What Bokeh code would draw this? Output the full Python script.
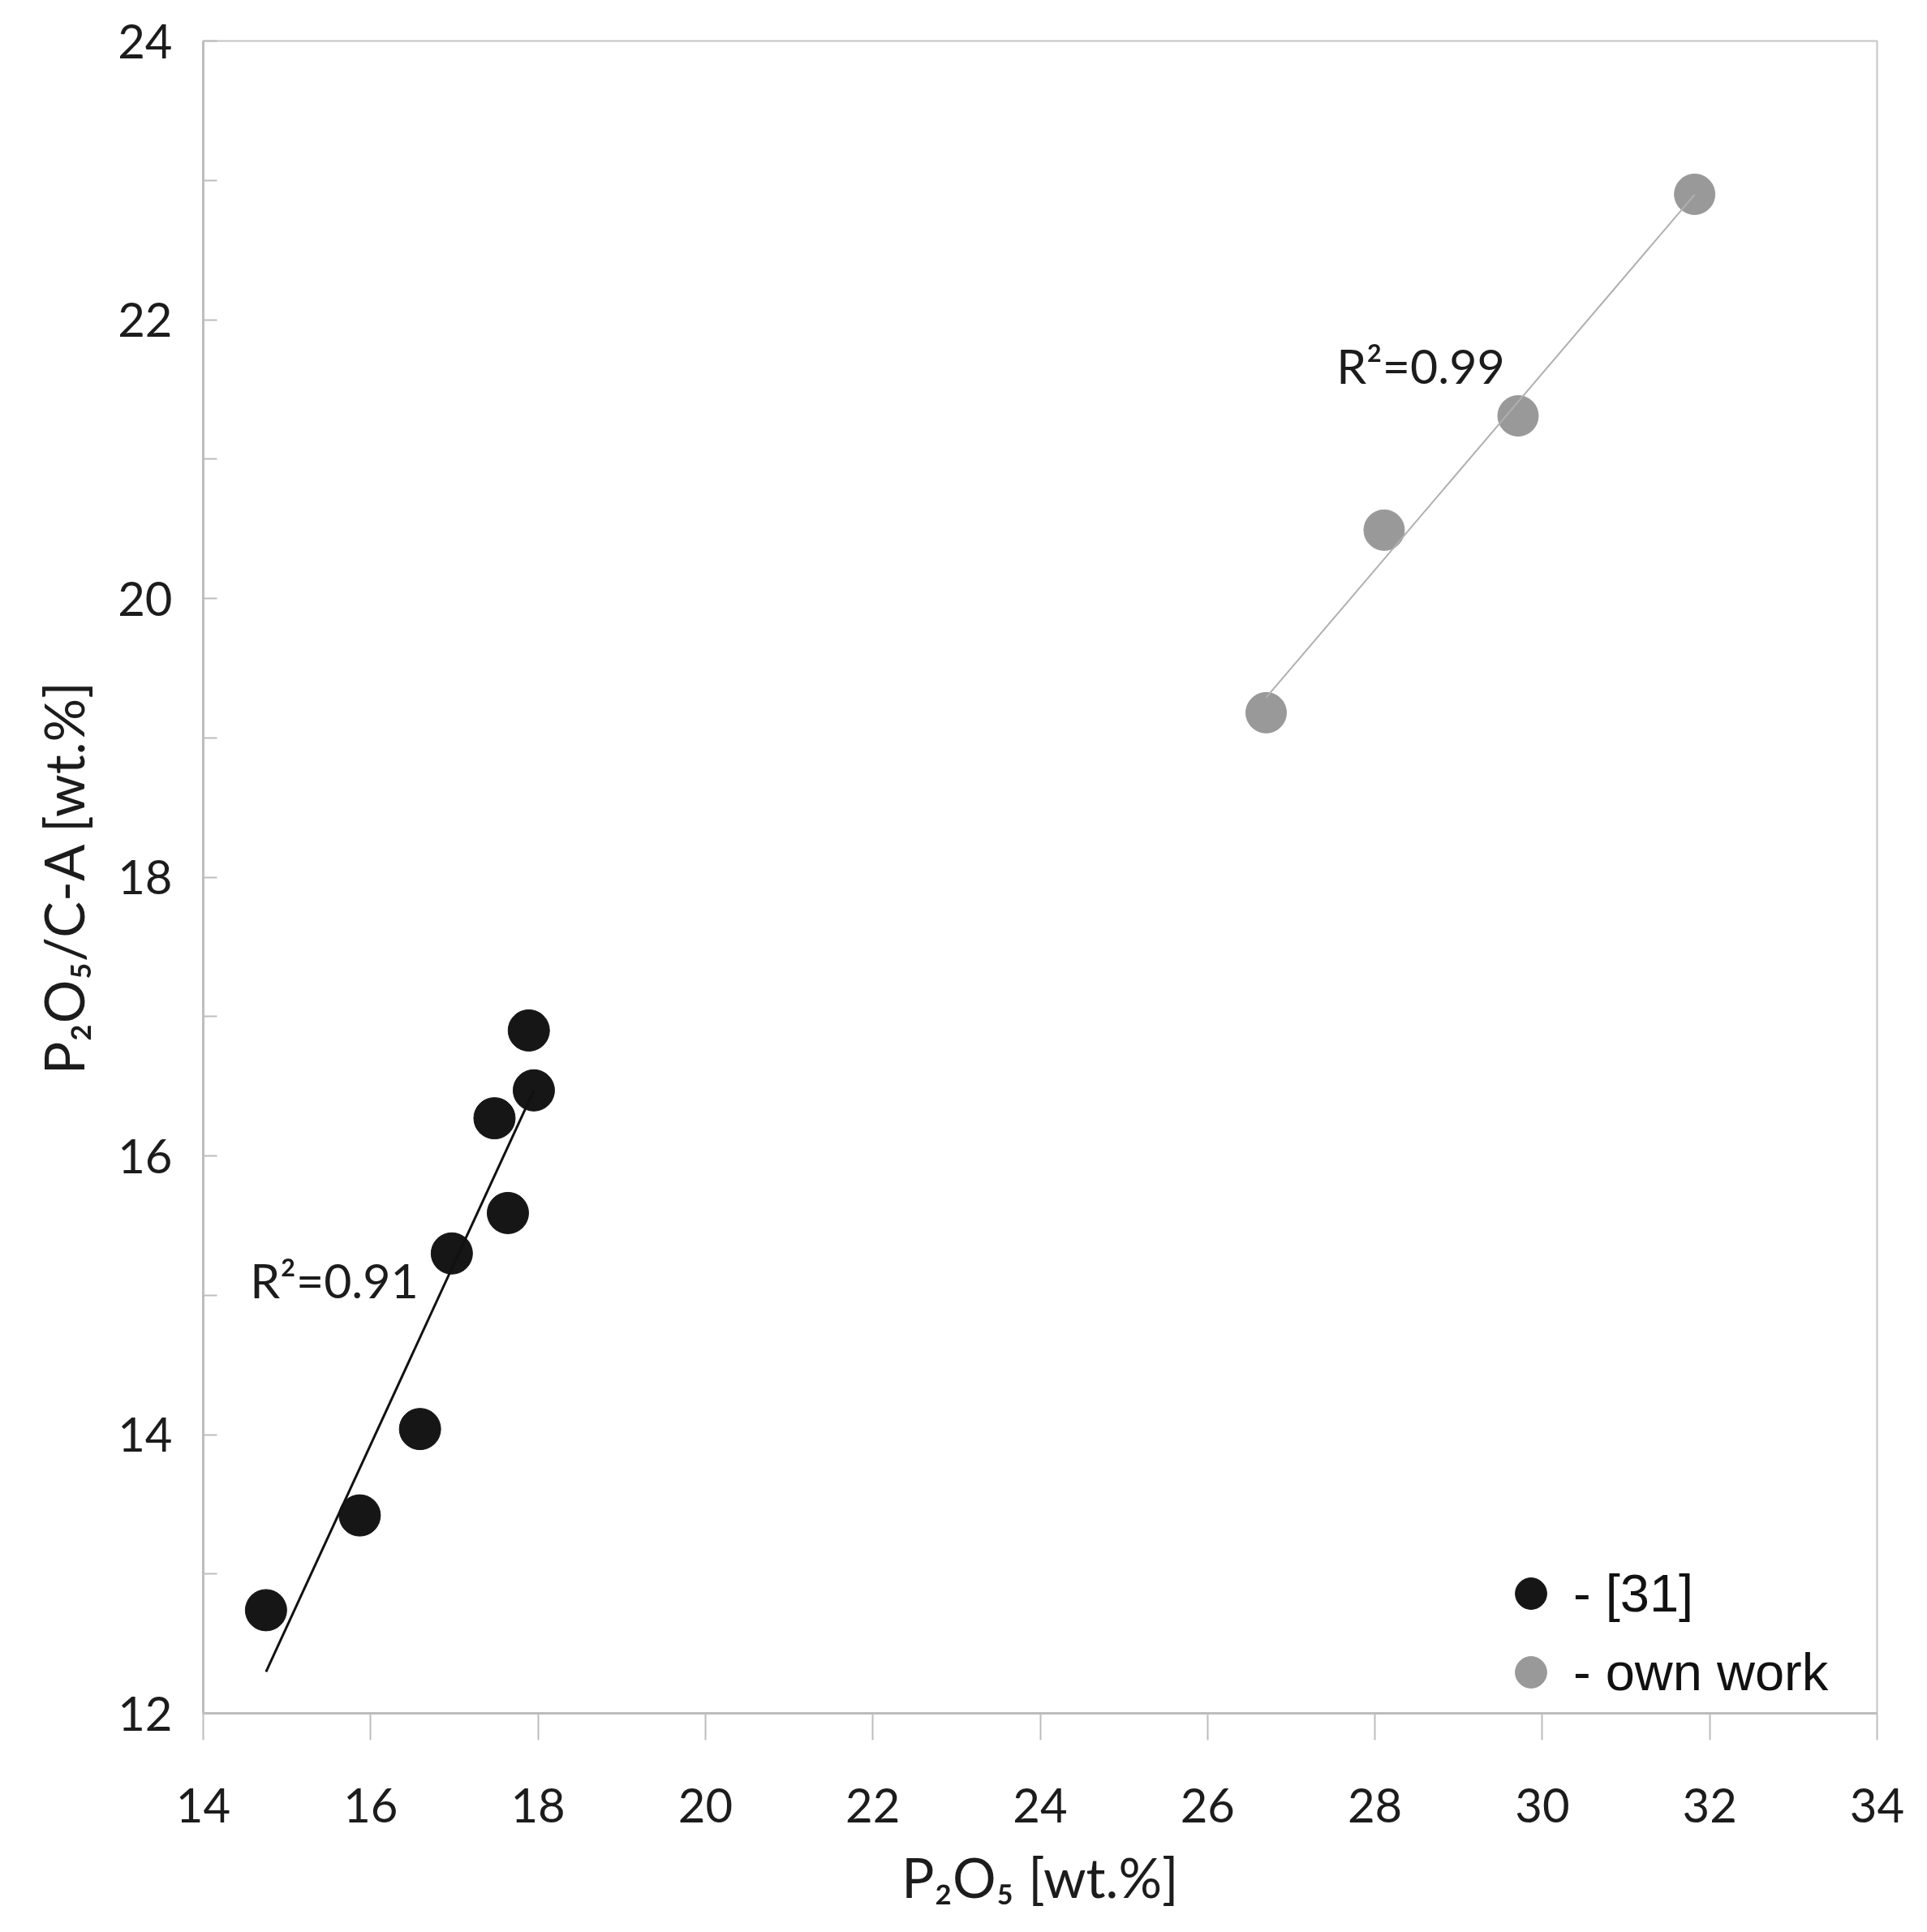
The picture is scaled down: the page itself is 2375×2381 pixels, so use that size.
import numpy as np
from bokeh.plotting import figure
from bokeh.models import Range1d, SingleIntervalTicker, Legend, LegendItem, Label
from bokeh.embed import file_html
from bokeh.resources import INLINE

# ---- data ----
ref31_x = [14.75, 15.87, 16.59, 16.97, 17.64, 17.48, 17.95, 17.89]
ref31_y = [12.74, 13.42, 14.04, 15.30, 15.59, 16.27, 16.47, 16.90]
own_x = [26.70, 28.11, 29.71, 31.82]
own_y = [19.18, 20.49, 21.31, 22.90]
series_labels = ["- [31]", "- own work"]
r2_labels = ["R\u00b2=0.91", "R\u00b2=0.99"]
x_label = "P\u2082O\u2085 [wt.%]"
y_label = "P\u2082O\u2085/C-A [wt.%]"

TXT = "#1c1c1c"
AX = "#bdbdbd"

p = figure(width=2367, height=2373,
           x_range=Range1d(14, 34), y_range=Range1d(12, 24),
           output_backend="svg", toolbar_location=None,
           min_border_left=250, min_border_right=54,
           min_border_top=50, min_border_bottom=262)
p.grid.visible = False
p.outline_line_color = "#c4c4c4"
p.outline_line_width = 2
p.background_fill_color = "white"
p.border_fill_color = "white"

# x axis
xa = p.xaxis[0]
xa.ticker = SingleIntervalTicker(interval=2, num_minor_ticks=0)
xa.axis_line_color = AX
xa.axis_line_width = 3
xa.major_tick_line_color = AX
xa.major_tick_line_width = 2
xa.major_tick_out = 33
xa.major_tick_in = 0
xa.minor_tick_line_color = None
xa.major_label_text_font = "Lato"
xa.major_label_text_font_size = "58px"
xa.major_label_text_color = TXT
xa.major_label_standoff = 59
xa.axis_label = x_label
xa.axis_label_text_font = "Lato"
xa.axis_label_text_font_size = "67px"
xa.axis_label_text_font_style = "normal"
xa.axis_label_text_color = TXT
xa.axis_label_standoff = 24

# y axis
ya = p.yaxis[0]
ya.ticker = SingleIntervalTicker(interval=2, num_minor_ticks=2)
ya.axis_line_color = AX
ya.axis_line_width = 3
ya.major_tick_line_color = None
ya.major_tick_out = 0
ya.major_tick_in = 0
ya.minor_tick_line_color = AX
ya.minor_tick_line_width = 2
ya.minor_tick_in = 17
ya.minor_tick_out = 0
ya.major_label_text_font = "Lato"
ya.major_label_text_font_size = "58px"
ya.major_label_text_color = TXT
ya.major_label_standoff = 38
ya.axis_label = y_label
ya.axis_label_text_font = "Lato"
ya.axis_label_text_font_size = "67px"
ya.axis_label_text_font_style = "normal"
ya.axis_label_text_color = TXT
ya.axis_label_standoff = 24

# points
r_black = p.scatter(ref31_x, ref31_y, size=51, marker="circle",
                    fill_color="#161616", line_color="#161616")
r_gray = p.scatter(own_x, own_y, size=50, marker="circle",
                   fill_color="#999999", line_color="#999999")

# least-squares trend lines
for xs, ys, col, w in [(ref31_x, ref31_y, "#111111", 3),
                       (own_x, own_y, "#b0b0b0", 2)]:
    k, b = np.polyfit(xs, ys, 1)
    x0, x1 = min(xs), max(xs)
    p.line([x0, x1], [k * x0 + b, k * x1 + b], line_color=col, line_width=w)

# R^2 annotations
p.add_layout(Label(x=14.56, y=15.11, text=r2_labels[0], text_font="Lato",
                   text_font_size="59px", text_color=TXT,
                   text_baseline="alphabetic", text_align="left"))
p.add_layout(Label(x=27.54, y=21.67, text=r2_labels[1], text_font="Lato",
                   text_font_size="59px", text_color=TXT,
                   text_baseline="alphabetic", text_align="left"))

legend = Legend(items=[LegendItem(label=series_labels[0], renderers=[r_black]),
                       LegendItem(label=series_labels[1], renderers=[r_gray])],
                location=(1584, 2), orientation="vertical",
                glyph_width=105, glyph_height=97, spacing=0,
                label_standoff=-10, padding=0, margin=0,
                border_line_color=None, background_fill_alpha=0,
                label_text_font="Liberation Sans", label_text_font_size="65px",
                label_text_color="#111111")
p.add_layout(legend, "center")

open("out.html", "w").write(file_html(p, INLINE))
